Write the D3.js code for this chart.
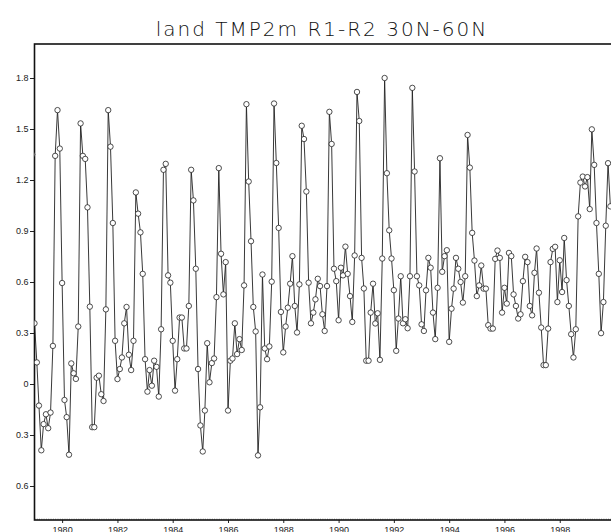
<!DOCTYPE html>
<html>
<head>
<meta charset="utf-8">
<script src="https://cdn.jsdelivr.net/npm/d3@7"></script>
<style>
  body { margin: 0; background: #fff; }
  svg { display: block; }
</style>
</head>
<body>
<svg width="611" height="532"></svg>
<script>
// title and series (monthly, first value is Dec 1978 and sits behind the frame)
var title = "land TMP2m R1-R2 30N-60N";
var firstMonth = new Date(1978, 11, 1);
var values = [
	1.35,
	0.357, 0.127, -0.127, -0.39, -0.236, -0.178, -0.26, -0.168, 0.224, 1.342, 1.611, 1.385,
	0.594, -0.094, -0.195, -0.416, 0.121, 0.063, 0.03, 0.338, 1.533, 1.342, 1.324, 1.039,
	0.455, -0.254, -0.254, 0.037, 0.049, -0.06, -0.1, 0.439, 1.611, 1.396, 0.947, 0.254,
	0.029, 0.088, 0.156, 0.357, 0.453, 0.172, 0.082, 0.254, 1.127, 1.002, 0.892, 0.648,
	0.146, -0.045, 0.082, -0.01, 0.137, 0.101, -0.074, 0.322, 1.26, 1.295, 0.639, 0.596,
	0.254, -0.039, 0.146, 0.391, 0.391, 0.209, 0.209, 0.459, 1.26, 1.08, 0.678, 0.088,
	-0.244, -0.397, -0.156, 0.24, 0.01, 0.123, 0.15, 0.511, 1.27, 0.766, 0.527, 0.717,
	-0.156, 0.137, 0.15, 0.357, 0.176, 0.264, 0.2, 0.58, 1.646, 1.191, 0.84, 0.453,
	0.309, -0.42, -0.137, 0.644, 0.209, 0.146, 0.221, 0.602, 1.65, 1.3, 0.918, 0.424,
	0.186, 0.338, 0.449, 0.59, 0.752, 0.459, 0.303, 0.586, 1.519, 1.441, 1.132, 0.596,
	0.357, 0.42, 0.498, 0.619, 0.576, 0.41, 0.312, 0.576, 1.601, 1.412, 0.678, 0.605,
	0.375, 0.684, 0.639, 0.808, 0.648, 0.517, 0.365, 0.756, 1.718, 1.547, 0.742, 0.562,
	0.137, 0.137, 0.42, 0.59, 0.356, 0.416, 0.142, 0.738, 1.80, 1.24, 0.904, 0.738,
	0.552, 0.195, 0.385, 0.634, 0.357, 0.381, 0.328, 0.634, 1.742, 1.25, 0.634, 0.58,
	0.351, 0.312, 0.551, 0.742, 0.684, 0.42, 0.264, 0.566, 1.328, 0.66, 0.752, 0.787,
	0.248, 0.443, 0.561, 0.742, 0.678, 0.6, 0.479, 0.634, 1.465, 1.273, 0.889, 0.726,
	0.517, 0.58, 0.697, 0.561, 0.561, 0.346, 0.326, 0.326, 0.736, 0.785, 0.742, 0.42,
	0.566, 0.473, 0.771, 0.752, 0.527, 0.459, 0.385, 0.41, 0.605, 0.748, 0.717, 0.459,
	0.404, 0.654, 0.797, 0.537, 0.332, 0.111, 0.111, 0.326, 0.717, 0.795, 0.807, 0.482,
	0.728, 0.541, 0.859, 0.611, 0.459, 0.293, 0.156, 0.322, 0.986, 1.185, 1.22, 1.162,
	1.217, 1.029, 1.498, 1.289, 0.947, 0.648, 0.299, 0.482, 0.931, 1.299, 1.045
];
var yTicks = [-0.6, -0.3, 0, 0.3, 0.6, 0.9, 1.2, 1.5, 1.8];
var yearTicks = [1980, 1982, 1984, 1986, 1988, 1990, 1992, 1994, 1996, 1998];
var xStart = new Date(1979, 0, 1), xEnd = new Date(2000, 0, 1);

var svg = d3.select("svg"),
	pLeft = 34.5, pTop = 44, pRight = 615, pBottom = 520;

var data = values.map(function (v, i) {
	return { date: d3.timeMonth.offset(firstMonth, i), value: v };
});

var x = d3.scaleTime().domain([xStart, xEnd]).range([pLeft, pRight]);
var y = d3.scaleLinear().domain([-0.8, 2.0]).range([pBottom, pTop]);

svg.append("text")
	.attr("x", 322)
	.attr("y", 36)
	.attr("text-anchor", "middle")
	.style("font-family", "DejaVu Sans")
	.style("font-weight", "200")
	.style("font-size", "20px")
	.style("letter-spacing", "2px")
	.style("fill", "#111")
	.text(title);

svg.append("clipPath").attr("id", "plot")
	.append("rect")
	.attr("x", pLeft).attr("y", pTop)
	.attr("width", pRight - pLeft).attr("height", pBottom - pTop);

// y axis
var yAxis = svg.append("g")
	.attr("transform", "translate(" + pLeft + ",0)")
	.call(d3.axisLeft(y).tickValues(yTicks).tickSize(4.5).tickPadding(1.5)
		.tickFormat(function (d) { return d === 0 ? "0" : d3.format(".1f")(Math.abs(d)); }));

// x axis
var xAxis = svg.append("g")
	.attr("transform", "translate(0," + pBottom + ")")
	.call(d3.axisBottom(x)
		.tickValues(yearTicks.map(function (yr) { return new Date(yr, 0, 1); }))
		.tickSize(3).tickPadding(4)
		.tickFormat(d3.timeFormat("%Y")));

[yAxis, xAxis].forEach(function (g) {
	g.select(".domain").remove();
	g.selectAll("line").style("stroke", "#222").style("stroke-width", 1);
	g.selectAll("text")
		.style("font-family", "Liberation Sans")
		.style("font-size", "9px")
		.style("fill", "#222");
});

// small monthly ticks along the bottom of the frame
svg.append("g")
	.attr("transform", "translate(0," + pBottom + ")")
	.call(d3.axisTop(x).ticks(d3.timeMonth.every(1)).tickSize(1.5).tickFormat(""))
	.call(function (g) {
		g.select(".domain").remove();
		g.selectAll("line").style("stroke", "#888").style("stroke-width", 0.7);
	});

// frame
svg.append("rect")
	.attr("x", pLeft).attr("y", pTop)
	.attr("width", pRight - pLeft).attr("height", pBottom - pTop)
	.style("fill", "none")
	.style("stroke", "#111")
	.style("stroke-width", 1.6);

var plot = svg.append("g").attr("clip-path", "url(#plot)");

var line = d3.line()
	.x(function (d) { return x(d.date); })
	.y(function (d) { return y(d.value); });

plot.append("path")
	.datum(data)
	.attr("d", line)
	.style("fill", "none")
	.style("stroke", "#222")
	.style("stroke-width", 0.9);

plot.selectAll("circle")
	.data(data)
	.enter().append("circle")
	.attr("cx", function (d) { return x(d.date); })
	.attr("cy", function (d) { return y(d.value); })
	.attr("r", 2.7)
	.style("fill", "#fff")
	.style("stroke", "#222")
	.style("stroke-width", 0.8);
</script>
</body>
</html>
